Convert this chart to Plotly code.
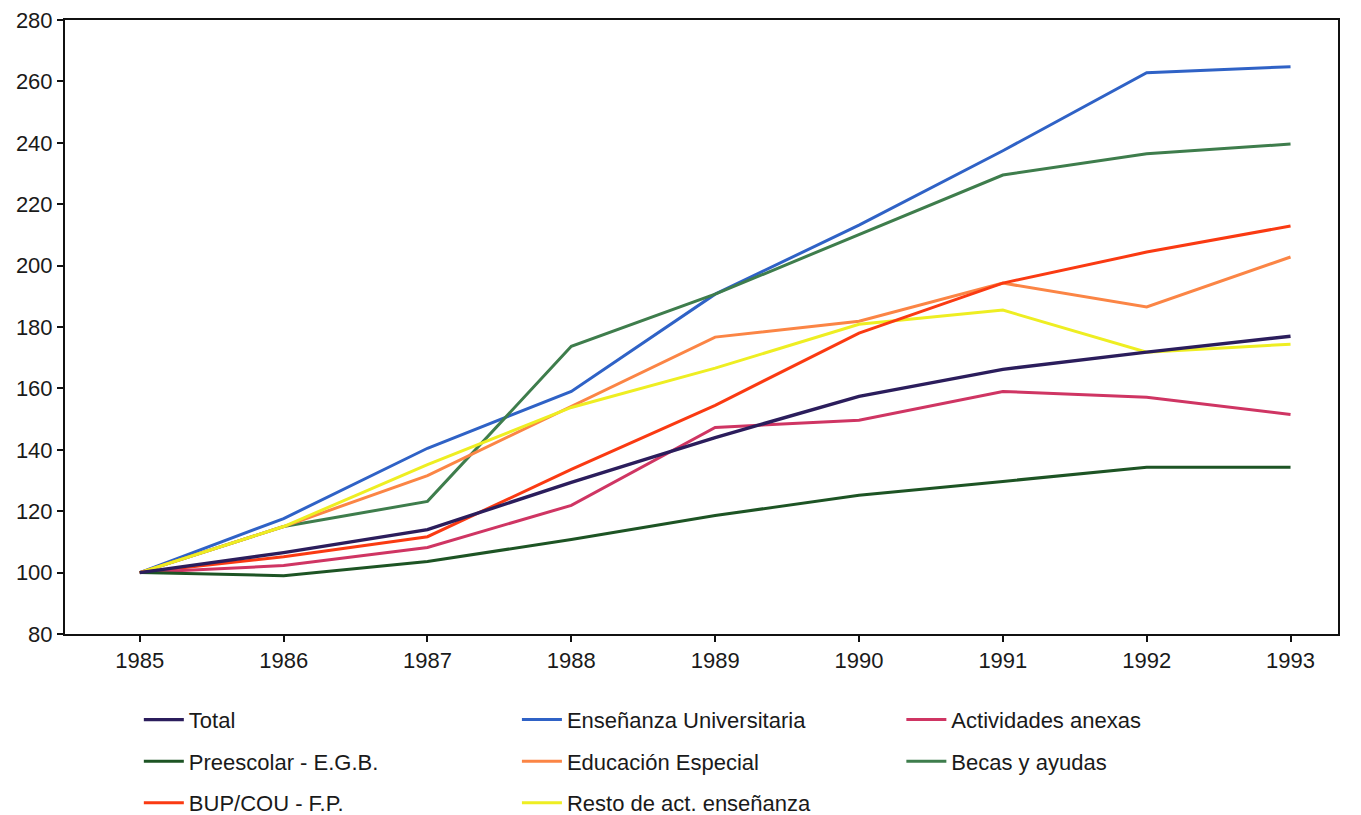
import plotly.graph_objects as go

years = [1985, 1986, 1987, 1988, 1989, 1990, 1991, 1992, 1993]

total = [100, 106.5, 114, 129.4, 144, 157.4, 166.2, 171.8, 177]
preescolar = [100, 99, 103.6, 110.8, 118.6, 125.2, 129.7, 134.3, 134.3]
bup = [100, 105.2, 111.7, 133.6, 154.5, 178, 194.3, 204.4, 212.9]
universitaria = [100, 117.6, 140.5, 159, 190.7, 213.2, 237.4, 262.8, 264.8]
especial = [100, 115, 131.6, 154.2, 176.7, 181.9, 194.3, 186.5, 202.8]
resto = [100, 115, 135.2, 153.8, 166.6, 180.9, 185.5, 171.8, 174.4]
anexas = [100, 102.3, 108.2, 121.9, 147.3, 149.6, 159, 157.1, 151.5]
becas = [100, 115, 123.2, 173.7, 190.7, 210, 229.5, 236.4, 239.6]

y_ticks = [80, 100, 120, 140, 160, 180, 200, 220, 240, 260, 280]

series = [
    ("Total", total, "#2b1d5c", "legend"),
    ("Preescolar - E.G.B.", preescolar, "#1d5424", "legend"),
    ("BUP/COU - F.P.", bup, "#fa3a12", "legend"),
    ("Enseñanza Universitaria", universitaria, "#2f62c6", "legend2"),
    ("Educación Especial", especial, "#fb8545", "legend2"),
    ("Resto de act. enseñanza", resto, "#eeee22", "legend2"),
    ("Actividades anexas", anexas, "#cf3563", "legend3"),
    ("Becas y ayudas", becas, "#3e7d4c", "legend3"),
]

# draw order: keep Total on top
draw_order = [3, 7, 4, 5, 2, 6, 1, 0]

fig = go.Figure()
for i in draw_order:
    name, vals, color, leg = series[i]
    fig.add_trace(go.Scatter(
        x=years, y=vals, mode="lines", name=name,
        line=dict(color=color, width=3.4 if i == 0 else 3.0),
        legend=leg, legendgroup=name, legendrank=i,
    ))

font_family = "Liberation Sans, Arial, sans-serif"
leg_common = dict(
    orientation="v", yanchor="top", xanchor="left",
    xref="paper", yref="container",
    font=dict(family=font_family, size=22, color="#1a1a1a"),
    bgcolor="rgba(0,0,0,0)", tracegroupgap=10, itemwidth=40,
    traceorder="grouped",
)

fig.update_layout(
    width=1353, height=807,
    margin=dict(l=57, r=23, t=12, b=181, autoexpand=False),
    paper_bgcolor="white", plot_bgcolor="white",
    font=dict(family=font_family, size=22, color="#1a1a1a"),
    xaxis=dict(
        range=[1984.48, 1993.33], tickvals=years, ticktext=[str(y) for y in years],
        showgrid=False, zeroline=False, showline=True, linecolor="#111",
        linewidth=2, mirror=True, ticks="outside", ticklen=6, tickwidth=1.5,
        tickcolor="#111", tickfont=dict(size=22), ticklabeloverflow="allow",
    ),
    yaxis=dict(
        range=[80, 280], tickvals=y_ticks,
        showgrid=False, zeroline=False, showline=True, linecolor="#111",
        linewidth=2, mirror=True, ticks="outside", ticklen=6, tickwidth=1.5,
        tickcolor="#111", tickfont=dict(size=22), ticklabeloverflow="allow",
    ),
    legend=dict(x=0.058, y=0.144, **leg_common),
    legend2=dict(x=0.355, y=0.144, **leg_common),
    legend3=dict(x=0.657, y=0.144, **leg_common),
)

fig.write_html("out.html")
